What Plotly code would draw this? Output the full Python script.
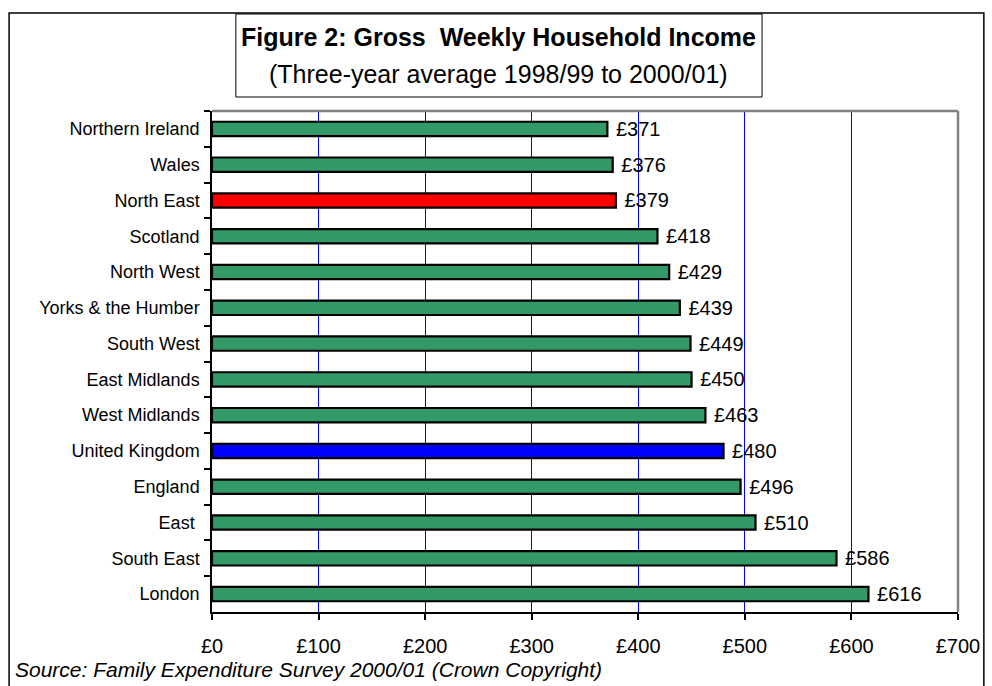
import plotly.graph_objects as go

# Data (top to bottom as shown)
regions = ["Northern Ireland", "Wales", "North East", "Scotland", "North West",
           "Yorks & the Humber", "South West", "East Midlands", "West Midlands",
           "United Kingdom", "England", "East ", "South East", "London"]
income = [371, 376, 379, 418, 429, 439, 449, 450, 463, 480, 496, 510, 586, 616]
x_ticks = [0, 100, 200, 300, 400, 500, 600, 700]
x_tick_labels = ["£0", "£100", "£200", "£300", "£400", "£500", "£600", "£700"]

title_line1 = "<b>Figure 2: Gross\u00a0 Weekly Household Income</b>"
title_line2 = "(Three-year average 1998/99 to 2000/01)"
source_text = "<i>Source: Family Expenditure Survey 2000/01 (Crown Copyright)</i>"

highlight = {"North East": "#FF0000", "United Kingdom": "#0000FF"}
colors = [highlight.get(r, "#339966") for r in regions]

FONT = "Liberation Sans, Arial, sans-serif"

fig = go.Figure()
fig.add_trace(go.Bar(
    y=regions, x=income, orientation="h",
    marker=dict(color=colors, line=dict(color="black", width=2.2)),
    width=0.4,
    text=income,
    texttemplate="\u00a0£%{text}",
    textposition="outside",
    textfont=dict(family=FONT, size=20, color="black"),
    constraintext="none",
    cliponaxis=False,
    showlegend=False,
    hoverinfo="skip",
))

fig.update_layout(
    width=992, height=686,
    margin=dict(l=212, r=30, t=111, b=74),
    paper_bgcolor="white", plot_bgcolor="white",
    font=dict(family=FONT, color="black"),
    xaxis=dict(
        range=[0, 700], tickvals=x_ticks, ticktext=x_tick_labels,
        showgrid=True, gridcolor="#0000FF", gridwidth=1,
        showline=True, linecolor="black", linewidth=1.5,
        ticks="outside", ticklen=6, tickcolor="black", tickwidth=1.5,
        tickfont=dict(family=FONT, size=20, color="black"),
        ticklabelstandoff=9,
        zeroline=False, fixedrange=True,
    ),
    yaxis=dict(
        autorange="reversed",
        showline=True, linecolor="black", linewidth=1.5,
        ticks="outside", ticklen=6, tickcolor="black", tickwidth=1.5,
        tickson="boundaries",
        tickfont=dict(family=FONT, size=18, color="black"),
        ticklabelstandoff=7,
        showgrid=False, fixedrange=True,
    ),
)

W = 750.0
H = 501.0
def px(xp):
    return (xp - 212) / W
def py(yp):
    return (612 - yp) / H

shapes = [
    # outer frame
    dict(type="rect", xref="paper", yref="paper",
         x0=px(8), x1=px(988), y0=py(700), y1=py(13),
         line=dict(color="black", width=1.5), layer="below"),
    # plot area top & right borders (gray)
    dict(type="line", xref="paper", yref="paper", x0=0, x1=1, y0=1, y1=1,
         line=dict(color="#808080", width=2.5), layer="above"),
    dict(type="line", xref="paper", yref="paper", x0=1, x1=1, y0=0, y1=1,
         line=dict(color="#808080", width=2.5), layer="above"),
    # title box
    dict(type="rect", xref="paper", yref="paper",
         x0=px(236), x1=px(765), y0=py(97), y1=py(14),
         line=dict(color="black", width=1), fillcolor="white", layer="below"),
]
fig.update_layout(shapes=shapes)

fig.add_annotation(xref="paper", yref="paper", x=px(500.5), y=py(37),
                   text=title_line1, showarrow=False, xanchor="center", yanchor="middle",
                   font=dict(family=FONT, size=25, color="black"))
fig.add_annotation(xref="paper", yref="paper", x=px(500.5), y=py(74),
                   text=title_line2, showarrow=False, xanchor="center", yanchor="middle",
                   font=dict(family=FONT, size=25, color="black"))
fig.add_annotation(xref="paper", yref="paper", x=px(12), y=py(669),
                   text=source_text, showarrow=False, xanchor="left", yanchor="middle",
                   font=dict(family=FONT, size=21, color="black"))

fig.write_html(
    "out.html",
    config={"displayModeBar": False},
    post_script="document.body.style.margin='0';document.body.style.overflow='hidden';",
)
